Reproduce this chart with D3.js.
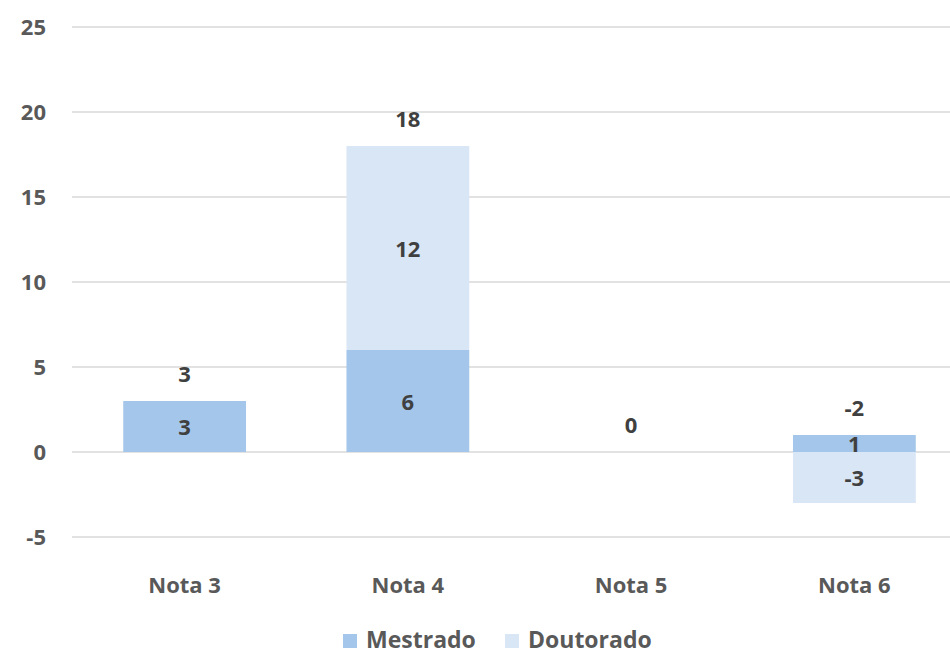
<!DOCTYPE html>
<html>
<head>
<meta charset="utf-8">
<script src="https://cdn.jsdelivr.net/npm/d3@7"></script>
<style>
  body { margin: 0; background: #fff; }
  text { font-family: "Open Sans", Roboto, sans-serif; font-weight: bold; }
</style>
</head>
<body>
<svg id="chart" width="950" height="654"></svg>
<script>
// data
var categories = ["Nota 3", "Nota 4", "Nota 5", "Nota 6"];
var mestrado = [3, 6, 0, 1];
var doutorado = [0, 12, 0, -3];
var totals = [3, 18, 0, -2];
var yTicks = [-5, 0, 5, 10, 15, 20, 25];
var seriesNames = ["Mestrado", "Doutorado"];
var seriesColors = ["#a3c6ea", "#d8e6f5"];

var svg = d3.select("#chart");

var x = d3.scaleBand().domain(categories).range([73, 966]).paddingInner(0.45).paddingOuter(0.225);
var y = d3.scaleLinear().domain([-5, 25]).range([537, 27]);

// gridlines
svg.append("g").selectAll("line")
    .data(yTicks)
    .enter().append("line")
    .attr("x1", 72).attr("x2", 966)
    .attr("y1", d => y(d)).attr("y2", d => y(d))
    .attr("stroke", "#d9d9d9")
    .attr("stroke-width", 1.5);

// y axis labels (plain hyphen for negatives, like the original)
var yAxis = svg.append("g")
    .attr("transform", "translate(46,0)")
    .call(d3.axisLeft(y).tickValues(yTicks).tickSize(0).tickPadding(0).tickFormat(d => String(d)));
yAxis.select(".domain").remove();
yAxis.selectAll("text")
    .attr("font-size", 22)
    .attr("font-family", "'Open Sans', sans-serif")
    .attr("fill", "#595959");

// stacked bars: positive values go up, negative go down from zero
var rows = categories.map((c, i) => {
    var pos = 0, neg = 0, segs = [];
    [mestrado[i], doutorado[i]].forEach((v, s) => {
        var y0, y1;
        if (v >= 0) { y0 = pos; y1 = pos + v; pos = y1; }
        else { y0 = neg; y1 = neg + v; neg = y1; }
        segs.push({cat: c, s: s, v: v, y0: y0, y1: y1});
    });
    return {cat: c, segs: segs, top: pos, total: totals[i]};
});

var bars = svg.append("g");
rows.forEach(r => {
    r.segs.filter(d => d.v !== 0).forEach(d => {
        bars.append("rect")
            .attr("x", x(d.cat))
            .attr("width", x.bandwidth())
            .attr("y", y(Math.max(d.y0, d.y1)))
            .attr("height", Math.abs(y(d.y0) - y(d.y1)))
            .attr("fill", seriesColors[d.s]);
    });
});

// segment labels
rows.forEach(r => {
    r.segs.filter(d => d.v !== 0).forEach(d => {
        svg.append("text")
            .attr("x", x(d.cat) + x.bandwidth() / 2)
            .attr("y", y((d.y0 + d.y1) / 2) + 1)
            .attr("dy", "0.36em")
            .attr("text-anchor", "middle")
            .attr("font-size", 22)
            .attr("fill", "#404040")
            .text(d.v);
    });
    // total label above the stack
    svg.append("text")
        .attr("x", x(r.cat) + x.bandwidth() / 2)
        .attr("y", y(r.top) - 27)
        .attr("dy", "0.36em")
        .attr("text-anchor", "middle")
        .attr("font-size", 22)
        .attr("fill", "#404040")
        .text(r.total);
});

// x axis labels
svg.append("g").selectAll("text")
    .data(categories)
    .enter().append("text")
    .attr("x", d => x(d) + x.bandwidth() / 2)
    .attr("y", 585)
    .attr("dy", "0.36em")
    .attr("text-anchor", "middle")
    .attr("font-size", 22)
    .attr("fill", "#595959")
    .text(d => d);

// legend
var legend = svg.append("g");
var legendX = [343, 505];
seriesNames.forEach((n, i) => {
    legend.append("rect")
        .attr("x", legendX[i]).attr("y", 634)
        .attr("width", 14).attr("height", 14)
        .attr("fill", seriesColors[i]);
    legend.append("text")
        .attr("x", legendX[i] + 23).attr("y", 640)
        .attr("dy", "0.36em")
        .attr("font-size", 23)
        .attr("fill", "#595959")
        .text(n);
});
</script>
</body>
</html>
